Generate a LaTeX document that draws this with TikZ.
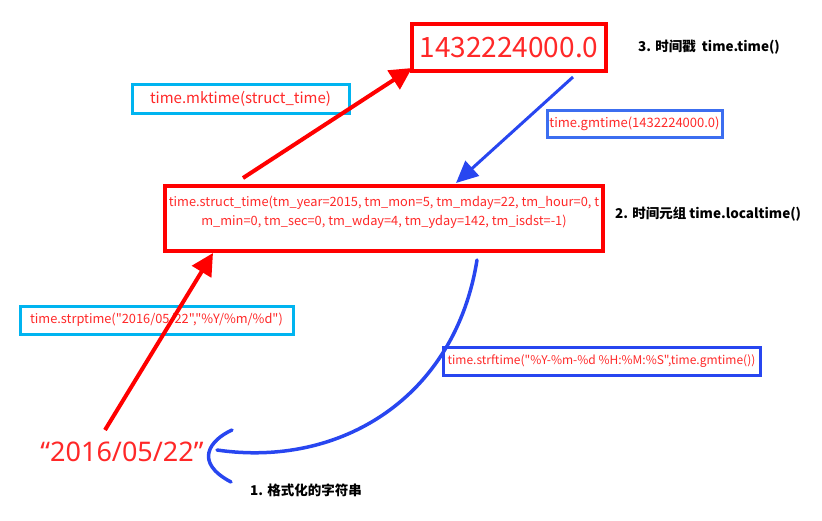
\documentclass[tikz,border=0pt]{standalone}
\usepackage{fontspec}
\setmainfont{Noto Sans CJK SC}
\newfontfamily\cjkf{Noto Sans CJK SC}
\newfontfamily\latinf{Noto Sans}
\usetikzlibrary{arrows.meta}
\definecolor{cred}{RGB}{255,0,0}
\definecolor{tred}{RGB}{255,40,40}
\definecolor{ccyan}{RGB}{0,180,240}
\definecolor{cblue}{RGB}{60,110,240}
\definecolor{dblue}{RGB}{40,70,240}
\tikzset{
  bx/.style={draw, inner sep=0pt, text=tred, font=\cjkf\fontsize{13}{15}\selectfont},
  bigtxt/.style={text=tred, font=\latinf\fontsize{27}{32}\selectfont, inner sep=0pt},
  lab/.style={font=\fontsize{13.5}{16}\selectfont\bfseries, anchor=west, inner sep=0pt},
  redarrow/.style={draw=cred, line width=4pt, -{Triangle[length=22pt,width=22pt]}},
  bluearrow/.style={draw=dblue, line width=3pt, -{Triangle[length=22pt,width=20pt]}},
  bluecurve/.style={draw=dblue, line width=3.5pt, line cap=round},
}
\begin{document}
\begin{tikzpicture}[x=1pt,y=-1pt]
\useasboundingbox (0,0) rectangle (822,520);
% boxes
\node[bx, draw=cred, line width=3.5pt, minimum width=194pt, minimum height=47pt, font=\cjkf\fontsize{28}{32}\selectfont] (ts) at (509,47.5) {1432224000.0};
\node[lab] (l3) at (638,47) {3. 时间戳\ \ time.time()};
\node[bx, draw=ccyan, line width=3pt, minimum width=217pt, minimum height=29pt, font=\cjkf\fontsize{15}{17}\selectfont] (mk) at (240.5,98.5) {time.mktime(struct\_time)};
\node[bx, draw=cblue, line width=3pt, minimum width=175pt, minimum height=27pt] (gm) at (634.5,123.5) {time.gmtime(1432224000.0)};
\node[bx, draw=cred, line width=3.5pt, minimum width=438pt, minimum height=65pt] (sb) at (384,218.5) {};
\node[text=tred, font=\cjkf\fontsize{12.8}{19}\selectfont, align=center, inner sep=0pt] (st) at (384,212.5) {time.struct\_time(tm\_year=2015, tm\_mon=5, tm\_mday=22, tm\_hour=0, t\\m\_min=0, tm\_sec=0, tm\_wday=4, tm\_yday=142, tm\_isdst=-1)};
\node[lab] (l2) at (615,214) {2. 时间元组 time.localtime()};
\node[bx, draw=ccyan, line width=3pt, minimum width=273pt, minimum height=28pt, font=\cjkf\fontsize{12.8}{15}\selectfont] (sp) at (156.5,320) {time.strptime("2016/05/22","\%Y/\%m/\%d")};
\node[bx, draw=dblue, line width=3pt, minimum width=317pt, minimum height=28pt, font=\cjkf\fontsize{12}{15}\selectfont] (sf) at (601.5,361) {time.strftime("\%Y-\%m-\%d \%H:\%M:\%S",time.gmtime())};
\node[bigtxt] (ds) at (122,452) {“2016/05/22”};
\node[lab] (l1) at (250,490) {1. 格式化的字符串};
% connector endpoints
\coordinate (a1s) at (243,178);
\coordinate (a1e) at (412,68);
\coordinate (a2s) at (573,77);
\coordinate (a2e) at (456,183);
\coordinate (a3s) at (105,430);
\coordinate (a3e) at (213,253);
\coordinate (a4s) at (477,260);
\coordinate (a4e) at (217,450);
% arrows
\draw[redarrow] (a1s) -- (a1e);
\draw[bluearrow] (a2s) -- (a2e);
\draw[redarrow] (a3s) -- (a3e);
\draw[bluecurve] (a4s) .. controls (455,398) and (340,468) .. (a4e);
\draw[bluecurve] (232,430) .. controls (210,440) and (193,462) .. (231,482);
\end{tikzpicture}
\end{document}
